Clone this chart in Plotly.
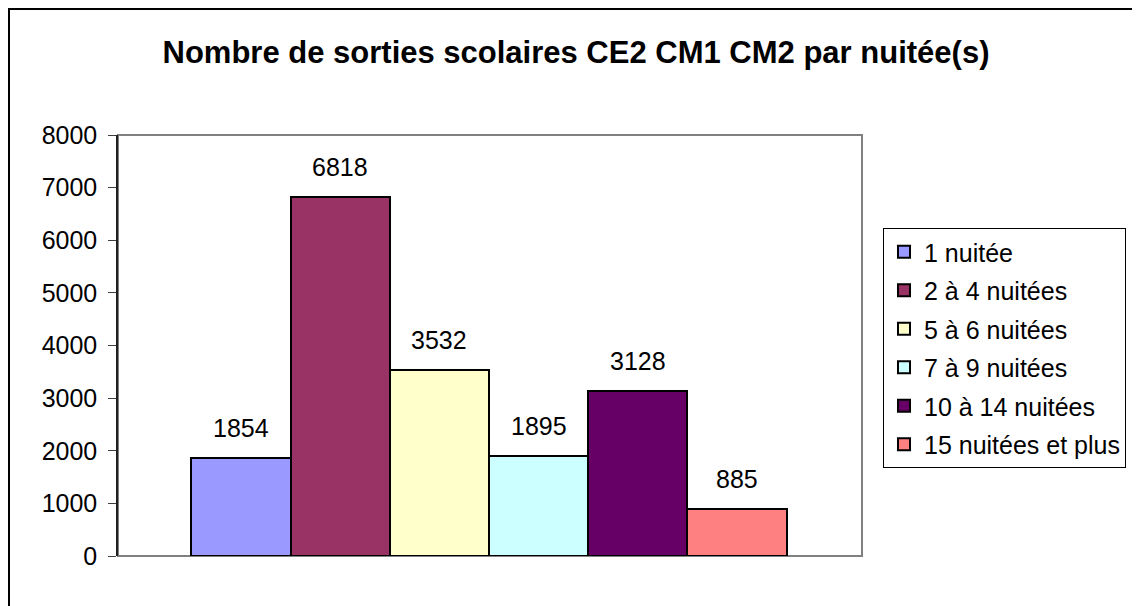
import plotly.graph_objects as go

# data
categories = ["1 nuitée", "2 à 4 nuitées", "5 à 6 nuitées", "7 à 9 nuitées",
              "10 à 14 nuitées", "15 nuitées et plus"]
values = [1854, 6818, 3532, 1895, 3128, 885]
colors = ["#9999FF", "#993366", "#FFFFCC", "#CCFFFF", "#660066", "#FF8080"]
title = "Nombre de sorties scolaires CE2 CM1 CM2 par nuitée(s)"

FONT = "Liberation Sans, Arial, sans-serif"

# page body has an 8px margin, so the figure is a bit smaller and shifted
W, H = 1132, 598
L, T, PW, PH = 110, 127, 744, 421

fig = go.Figure()
for i, (cat, val, col) in enumerate(zip(categories, values, colors)):
    fig.add_trace(go.Bar(x=[cat], y=[val], name=cat, legendgroup=f"g{i}",
                         marker=dict(color=col, line=dict(color="black", width=2)),
                         hoverinfo="x+y"))

# value labels above each bar (Excel style)
annotations = [dict(x=cat, y=val, xref="x", yref="y", text=str(val), showarrow=False,
                    yanchor="middle", yshift=30, font=dict(family=FONT, size=25, color="black"))
               for cat, val in zip(categories, values)]

fig.update_layout(
    width=W, height=H,
    margin=dict(l=L, r=W - L - PW, t=T, b=H - T - PH),
    paper_bgcolor="white", plot_bgcolor="white",
    font=dict(family=FONT, size=25, color="black"),
    title=dict(text=f"<b>{title}</b>", x=568 / W, xanchor="center", y=1 - 44 / H, yanchor="middle",
               xref="container", yref="container", font=dict(family=FONT, size=31, color="black")),
    barmode="overlay", bargap=0,
    showlegend=True,
    legend=dict(x=(875 - L) / PW, y=(T + PH - 220) / PH, xanchor="left", yanchor="top",
                bordercolor="black", borderwidth=1, bgcolor="white",
                font=dict(family=FONT, size=25), tracegroupgap=3,
                itemwidth=30),
    annotations=annotations,
    shapes=[
        # plot area frame
        dict(type="rect", xref="paper", yref="paper", x0=0, y0=0, x1=1, y1=1,
             line=dict(color="#808080", width=2), layer="below"),
        # outer chart border
        dict(type="rect", xref="paper", yref="paper", x0=(1 - L) / PW, y0=-(H - T - PH + 20) / PH,
             x1=(W + 20 - L) / PW, y1=1 + (T - 1) / PH, line=dict(color="black", width=2)),
    ],
)
fig.update_xaxes(type="category", range=[-1.24, 6.26], showticklabels=False, ticks="",
                 showgrid=False, zeroline=False, showline=False)
fig.update_yaxes(range=[0, 8000], dtick=1000, ticks="outside", ticklen=8, tickcolor="#404040",
                 tickwidth=1, showgrid=False, zeroline=False, showline=True, linecolor="#202020",
                 linewidth=1.5, ticklabelstandoff=6, tickfont=dict(family=FONT, size=25, color="black"))

fig.write_html("out.html")
